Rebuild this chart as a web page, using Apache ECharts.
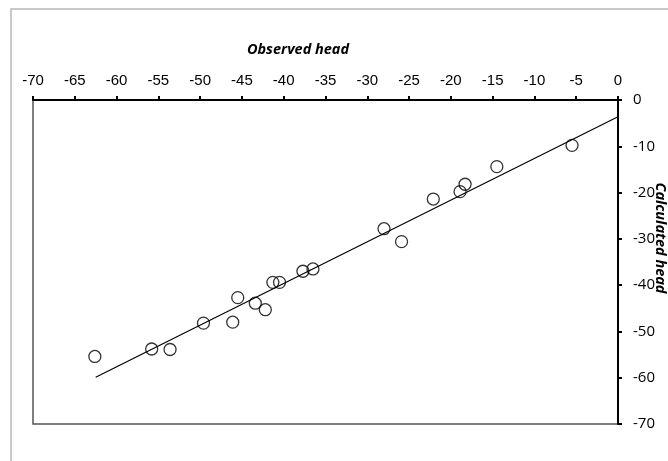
<!DOCTYPE html>
<html>
<head>
<meta charset="utf-8">
<script src="https://cdn.jsdelivr.net/npm/echarts@6/dist/echarts.min.js"></script>
<style>
  html, body { margin: 0; padding: 0; background: #fff; }
  #chart { width: 668px; height: 461px; }
</style>
</head>
<body>
<div id="chart"></div>
<script>
// observed vs calculated head
var observed = [-62.6, -55.8, -53.6, -49.6, -46.1, -45.5, -43.4, -42.2, -41.3, -40.5,
                -37.7, -36.5, -28.0, -25.9, -22.1, -18.9, -18.3, -14.5, -5.5];
var calculated = [-55.4, -53.8, -53.9, -48.2, -48.0, -42.7, -43.9, -45.3, -39.4, -39.4,
                  -37.0, -36.5, -27.8, -30.6, -21.4, -19.8, -18.2, -14.4, -9.8];
// trend line end points
var trendX = [-62.5, 0];
var trendY = [-59.9, -3.6];

var xTitle = 'Observed head';
var yTitle = 'Calculated head';

var points = observed.map(function (v, i) { return [v, calculated[i]]; });
var trend = trendX.map(function (v, i) { return [v, trendY[i]]; });

var myChart = echarts.init(document.getElementById('chart'));
var option = {
    animation: false,
    grid: {
        left: 33,
        top: 100,
        right: 50,
        bottom: 37,
        show: true,
        borderColor: '#555',
        borderWidth: 1.5
    },
    graphic: [
        {
            type: 'rect',
            shape: { x: 11, y: 9, width: 700, height: 500 },
            style: { fill: 'none', stroke: '#b8b8b8', lineWidth: 1.5 },
            silent: true
        },
        {
            type: 'text',
            x: 298,
            y: 50,
            style: {
                text: xTitle,
                font: 'italic bold 14.5px "Open Sans"',
                fill: '#000',
                align: 'center',
                verticalAlign: 'middle'
            }
        },
        {
            type: 'text',
            x: 660,
            y: 238,
            rotation: -Math.PI / 2,
            style: {
                text: yTitle,
                font: 'italic bold 14.5px "Open Sans"',
                fill: '#000',
                align: 'center',
                verticalAlign: 'middle'
            }
        }
    ],
    xAxis: {
        type: 'value',
        position: 'top',
        min: -70,
        max: 0,
        interval: 5,
        axisLine: { show: true, onZero: false, lineStyle: { color: '#000', width: 2 } },
        axisTick: { show: true, length: 4, lineStyle: { color: '#000', width: 2 } },
        axisLabel: { color: '#000', fontSize: 15, fontFamily: 'Liberation Sans', margin: 12 },
        splitLine: { show: false }
    },
    yAxis: {
        type: 'value',
        position: 'right',
        min: -70,
        max: 0,
        interval: 10,
        axisLine: { show: true, onZero: false, lineStyle: { color: '#000', width: 2 } },
        axisTick: { show: true, length: 4, lineStyle: { color: '#000', width: 2 } },
        axisLabel: { color: '#000', fontSize: 15, fontFamily: 'Open Sans', margin: 15 },
        splitLine: { show: false }
    },
    series: [
        {
            type: 'line',
            data: trend,
            symbol: 'none',
            lineStyle: { color: '#000', width: 1.2 },
            silent: true
        },
        {
            type: 'scatter',
            data: points,
            symbol: 'circle',
            symbolSize: 12,
            itemStyle: { color: 'rgba(0,0,0,0)', borderColor: '#000', borderWidth: 1.3 }
        }
    ]
};
myChart.setOption(option, true);
window.addEventListener('resize', () => {
    myChart.resize();
});
</script>
</body>
</html>
